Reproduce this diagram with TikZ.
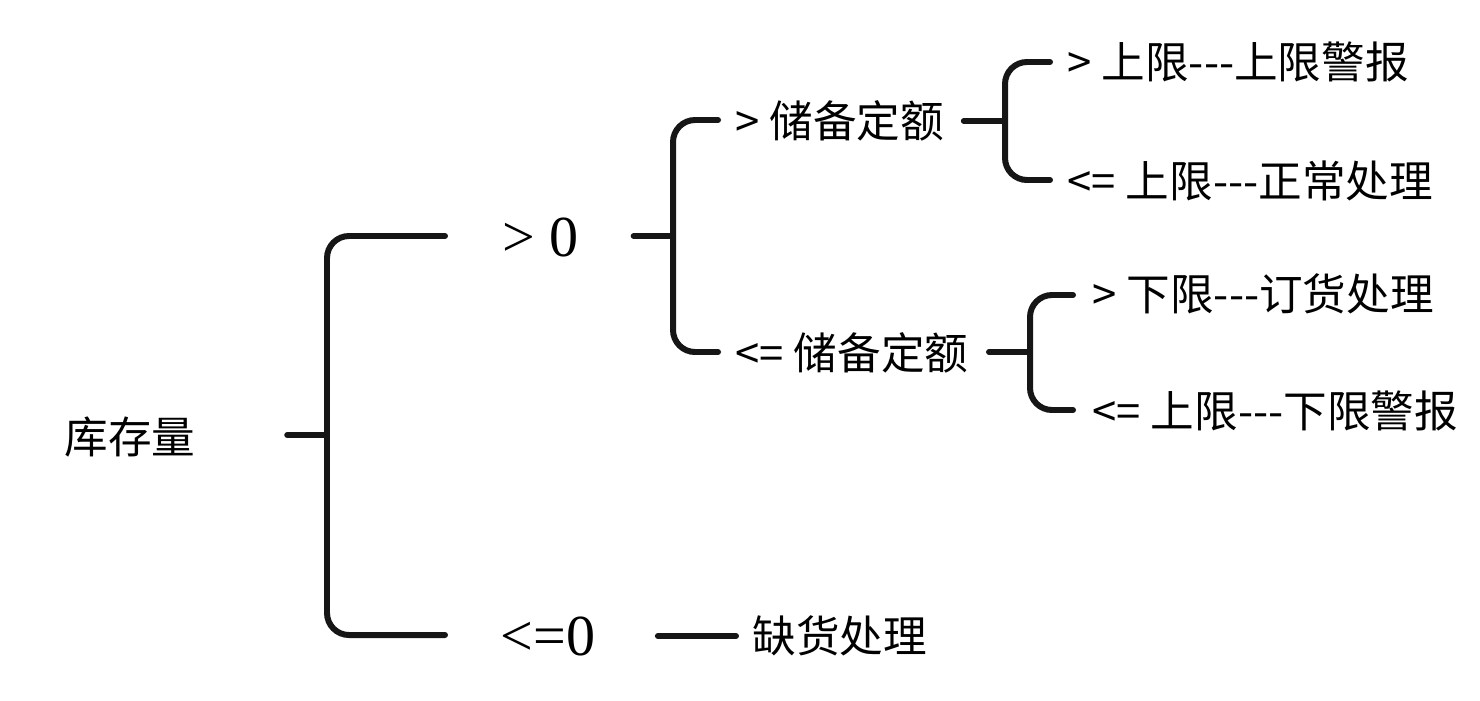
\documentclass[tikz,border=0pt]{standalone}
\usepackage{fontspec}
\setmainfont{Liberation Serif}
\newfontfamily\cjk{Noto Sans CJK SC}
\usetikzlibrary{calc}
\definecolor{ink}{HTML}{161616}
\begin{document}
\begin{tikzpicture}[
    x=0.01cm, y=-0.01cm,
    every node/.style={inner sep=0pt, anchor=west},
    txt/.style={font=\cjk\fontsize{12.4}{15}\selectfont},
    num/.style={font=\fontsize{16.5}{18}\selectfont},
    branch/.style={ink, line width=1.7pt, rounded corners=0.22cm, line cap=round},
]
\useasboundingbox (0,0) rectangle (1480,700);

% texts
\node[txt] (stock) at (64,437) {库存量};
\node[num] (pos) at (502,237) {> 0};
\node[num] (nonpos) at (500,636) {<=0};
\node[txt] (gtres) at (735,121) {> 储备定额};
\node[txt] (leres) at (735,353) {<= 储备定额};
\node[txt] (gtup) at (1067,62) {> 上限---上限警报};
\node[txt] (leup) at (1067,181) {<= 上限---正常处理};
\node[txt] (gtlow) at (1092,294) {> 下限---订货处理};
\node[txt] (lelow) at (1092,411) {<= 上限---下限警报};
\node[txt] (short) at (752,636) {缺货处理};

% junctions
\coordinate (j1) at (327,435);
\coordinate (j2) at (673,236);
\coordinate (j3) at (1005,121);
\coordinate (j4) at (1030,352);

% brace: stock
\draw[branch] ($(stock.east |- j1)+(91,0)$) -- (j1);
\draw[branch] ($(pos.west)+(-57,-1)$) -| (j1) |- ($(nonpos.west)+(-55,-1)$);

% brace: > 0
\draw[branch] ($(pos.east |- j2)+(54,0)$) -- (j2);
\draw[branch] ($(gtres.west)+(-17,-1)$) -| (j2) |- ($(leres.west)+(-17,-1)$);

% brace: > reserve
\draw[branch] ($(gtres.east |- j3)+(19,0)$) -- (j3);
\draw[branch] ($(gtup.west)+(-17,0)$) -| (j3) |- ($(leup.west)+(-17,-1)$);

% brace: <= reserve
\draw[branch] ($(leres.east |- j4)+(20,0)$) -- (j4);
\draw[branch] ($(gtlow.west)+(-19,1)$) -| (j4) |- ($(lelow.west)+(-19,-1)$);

% <= 0
\draw[branch] ($(nonpos.east)+(62,0)$) -- ($(short.west)+(-16,0)$);
\end{tikzpicture}
\end{document}
